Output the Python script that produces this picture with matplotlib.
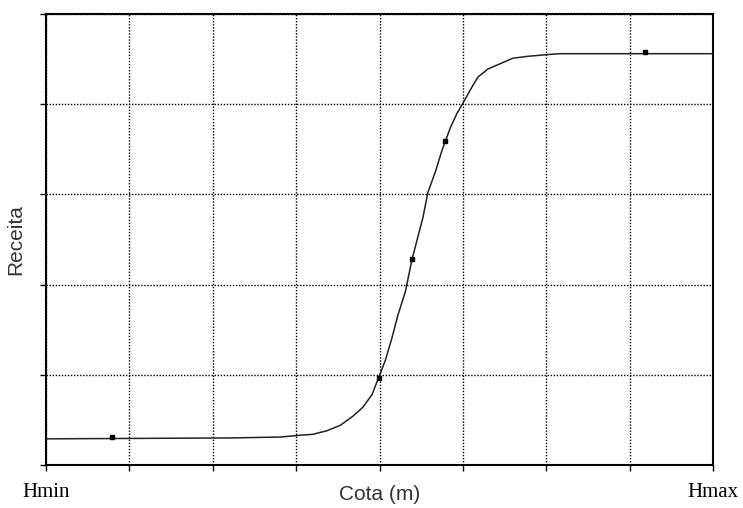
import matplotlib
matplotlib.use("Agg")
import matplotlib.pyplot as plt

# Observed data points (grid units: x 0..8 from Hmin to Hmax, y 0..5)
point_x = [0.79, 3.99, 4.39, 4.78, 7.19]
point_y = [0.31, 0.96, 2.28, 3.59, 4.58]

# Fitted curve
curve_x = [0.00, 2.21, 2.81, 3.05, 3.20, 3.37, 3.53, 3.68, 3.80, 3.91, 3.99,
           4.07, 4.15, 4.22, 4.31, 4.39, 4.52, 4.58, 4.67, 4.75, 4.85, 4.93,
           5.00, 5.09, 5.18, 5.30, 5.45, 5.60, 5.77, 6.01, 6.16, 8.00]
curve_y = [0.29, 0.30, 0.31, 0.33, 0.34, 0.38, 0.44, 0.54, 0.64, 0.78, 0.97,
           1.16, 1.41, 1.66, 1.92, 2.28, 2.74, 3.02, 3.25, 3.49, 3.74, 3.90,
           4.01, 4.16, 4.30, 4.39, 4.45, 4.51, 4.53, 4.55, 4.56, 4.56]

x_labels = {0: "Hmin", 8: "Hmax"}

fig = plt.figure(figsize=(7.43, 5.08), dpi=100)
ax = fig.add_axes([46/743, 43/508, 667/743, 451/508])

ax.plot(curve_x, curve_y, color="#222222", lw=1.1, zorder=3)
ax.plot(point_x, point_y, ls="none", marker="s", ms=3.2, color="black", zorder=4)

ax.set_xlim(0, 8)
ax.set_ylim(0, 5)
ax.set_xticks(range(0, 9))
ax.set_yticks(range(0, 6))
ax.set_xticklabels([])
ax.set_yticklabels([])
ax.tick_params(direction="out", length=4, width=1, color="black")
ax.grid(True, color="black", ls=(0, (1, 1.2)), lw=1.0)
for s in ax.spines.values():
    s.set_linewidth(1.5)
    s.set_color("black")

for xv, lab in x_labels.items():
    ax.text(xv, -0.31, lab, ha="center", va="center", fontsize=15,
            family="Liberation Serif", transform=ax.transData, clip_on=False)

ax.text(0.5, -0.065, "Cota (m)", ha="center", va="center", fontsize=15,
        family="Liberation Sans", color="#333333", transform=ax.transAxes)
ax.text(-0.045, 0.5, "Receita", ha="center", va="center", rotation=90,
        fontsize=15, family="Liberation Sans", color="#333333",
        transform=ax.transAxes)

fig.savefig("out.png", dpi=100)
